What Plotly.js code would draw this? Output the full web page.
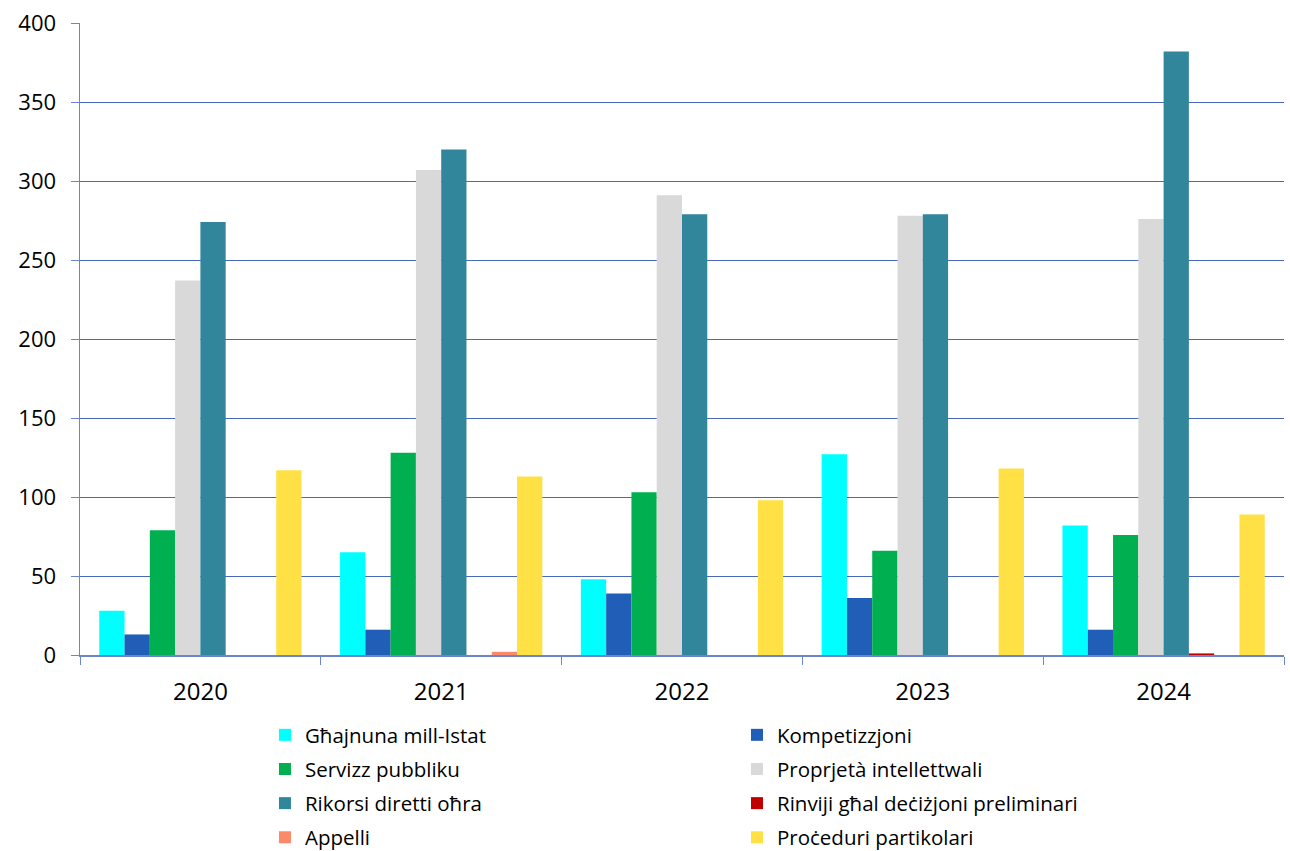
<!DOCTYPE html>
<html>
<head>
<meta charset="utf-8">
<script src="https://cdn.plot.ly/plotly-3.0.1.min.js"></script>
<style>body{margin:0;background:#fff}#chart{width:1290px;height:851px}</style>
</head>
<body>
<div id="chart"></div>
<script>
var years = ["2020", "2021", "2022", "2023", "2024"];
var seriesNames = ["Għajnuna mill-Istat", "Kompetizzjoni", "Servizz pubbliku", "Proprjetà intellettwali", "Rikorsi diretti oħra", "Rinviji għal deċiżjoni preliminari", "Appelli", "Proċeduri partikolari"];
var ghajnuna = [28, 65, 48, 127, 82];
var kompetizzjoni = [13, 16, 39, 36, 16];
var servizz = [79, 128, 103, 66, 76];
var proprjeta = [237, 307, 291, 278, 276];
var rikorsi = [274, 320, 279, 279, 382];
var rinviji = [0, 0, 0, 0, 1];
var appelli = [0, 2, 0, 0, 0];
var proceduri = [117, 113, 98, 118, 89];
var colors = ["#00FFFF", "#215EB8", "#00B050", "#D9D9D9", "#31869C", "#C00000", "#FA8A6A", "#FFE045"];
// legend column for each series (left column = "legend", right = "legend2")
var legendRefs = ["legend", "legend2", "legend", "legend2", "legend", "legend2", "legend", "legend2"];

var allSeries = [ghajnuna, kompetizzjoni, servizz, proprjeta, rikorsi, rinviji, appelli, proceduri];
var traces = allSeries.map(function (vals, i) {
  return {
    type: "bar",
    name: seriesNames[i],
    x: years,
    y: vals,
    legend: legendRefs[i],
    legendgroup: "g" + i,
    marker: {color: colors[i], line: {width: 0}},
    hoverinfo: "x+y+name"
  };
});

function legendAt(xc) {
  return {
    orientation: "v",
    xref: "container",
    yref: "container",
    x: xc,
    xanchor: "left",
    y: 0.1598,
    yanchor: "top",
    font: {size: 20.5, color: "#000000"},
    tracegroupgap: 4.5,
    maxheight: 1000,
    bgcolor: "rgba(0,0,0,0)",
    traceorder: "grouped"
  };
}

var layout = {
  width: 1290,
  height: 851,
  margin: {l: 80, r: 6, t: 23, b: 196, autoexpand: false},
  paper_bgcolor: "#ffffff",
  plot_bgcolor: "#ffffff",
  font: {family: "Open Sans, Noto Sans, sans-serif", color: "#000000"},
  barmode: "group",
  bargap: 0.16,
  bargroupgap: 0,
  showlegend: true,
  legend: legendAt(0.2054),
  legend2: legendAt(0.5713),
  xaxis: {
    type: "category",
    showgrid: false,
    showline: true,
    linecolor: "#6C84C8",
    linewidth: 1.5,
    ticks: "outside",
    tickson: "boundaries",
    ticklen: 8,
    tickcolor: "#6C84C8",
    tickfont: {size: 24, color: "#000000"},
    ticklabelstandoff: 15,
    zeroline: false
  },
  yaxis: {
    range: [0, 400],
    tickvals: [0, 50, 100, 150, 200, 250, 300, 350, 400],
    showgrid: true,
    gridcolor: "#4A67C0",
    gridwidth: 1,
    showline: true,
    linecolor: "#6C84C8",
    linewidth: 1.5,
    ticks: "outside",
    ticklen: 8,
    tickcolor: "#6C84C8",
    tickfont: {size: 22, color: "#000000"},
    ticklabelstandoff: 10,
    zeroline: false
  }
};

Plotly.newPlot("chart", traces, layout, {displayModeBar: false, staticPlot: true});
</script>
</body>
</html>
